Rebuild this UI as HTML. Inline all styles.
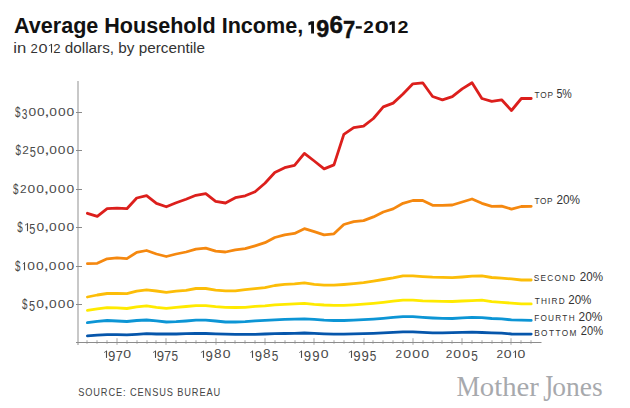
<!DOCTYPE html>
<html><head><meta charset="utf-8"><style>
html,body{margin:0;padding:0;background:#fff;}
body{width:630px;height:408px;overflow:hidden;position:relative;}
svg{position:absolute;left:0;top:0;}
text{font-family:"Liberation Sans",sans-serif;fill:#333;}
.title{font-weight:bold;font-size:22px;fill:#111;}
.sub{font-size:14.3px;fill:#333;}
.sub2{font-size:11.6px;fill:#333;}
.titleb{font-weight:bold;font-size:22px;fill:#111;stroke:#111;stroke-width:0.5px;}
.title2{font-weight:bold;font-size:16px;fill:#111;}
.yl{font-size:11.5px;fill:#4a4a4a;}
.xl{font-size:11.5px;fill:#4a4a4a;}
.sc{font-size:9.6px;}
.pc{font-size:12px;}
.src{font-size:10.5px;fill:#454545;}
.mjM{font-family:"Liberation Serif",serif;font-size:30.4px;fill:#a7a9ad;}
.mj{font-family:"Liberation Serif",serif;font-size:27.5px;fill:#a7a9ad;}
</style></head><body>
<svg width="630" height="408" viewBox="0 0 630 408">
<rect x="77" y="81" width="2" height="264" fill="#c8c8c8"/>
<rect x="86.25" y="340.2" width="1.5" height="3.6" fill="#c6c6c6"/><rect x="96.25" y="340.2" width="1.5" height="3.6" fill="#c6c6c6"/><rect x="106.25" y="340.2" width="1.5" height="3.6" fill="#c6c6c6"/><rect x="116.25" y="338.2" width="1.5" height="6.6" fill="#c6c6c6"/><rect x="126.25" y="340.2" width="1.5" height="3.6" fill="#c6c6c6"/><rect x="136.25" y="340.2" width="1.5" height="3.6" fill="#c6c6c6"/><rect x="146.25" y="340.2" width="1.5" height="3.6" fill="#c6c6c6"/><rect x="155.25" y="340.2" width="1.5" height="3.6" fill="#c6c6c6"/><rect x="165.25" y="338.2" width="1.5" height="6.6" fill="#c6c6c6"/><rect x="175.25" y="340.2" width="1.5" height="3.6" fill="#c6c6c6"/><rect x="185.25" y="340.2" width="1.5" height="3.6" fill="#c6c6c6"/><rect x="195.25" y="340.2" width="1.5" height="3.6" fill="#c6c6c6"/><rect x="205.25" y="340.2" width="1.5" height="3.6" fill="#c6c6c6"/><rect x="215.25" y="338.2" width="1.5" height="6.6" fill="#c6c6c6"/><rect x="224.25" y="340.2" width="1.5" height="3.6" fill="#c6c6c6"/><rect x="234.25" y="340.2" width="1.5" height="3.6" fill="#c6c6c6"/><rect x="244.25" y="340.2" width="1.5" height="3.6" fill="#c6c6c6"/><rect x="254.25" y="340.2" width="1.5" height="3.6" fill="#c6c6c6"/><rect x="264.25" y="338.2" width="1.5" height="6.6" fill="#c6c6c6"/><rect x="274.25" y="340.2" width="1.5" height="3.6" fill="#c6c6c6"/><rect x="284.25" y="340.2" width="1.5" height="3.6" fill="#c6c6c6"/><rect x="294.25" y="340.2" width="1.5" height="3.6" fill="#c6c6c6"/><rect x="303.25" y="340.2" width="1.5" height="3.6" fill="#c6c6c6"/><rect x="313.25" y="338.2" width="1.5" height="6.6" fill="#c6c6c6"/><rect x="323.25" y="340.2" width="1.5" height="3.6" fill="#c6c6c6"/><rect x="333.25" y="340.2" width="1.5" height="3.6" fill="#c6c6c6"/><rect x="343.25" y="340.2" width="1.5" height="3.6" fill="#c6c6c6"/><rect x="353.25" y="340.2" width="1.5" height="3.6" fill="#c6c6c6"/><rect x="363.25" y="338.2" width="1.5" height="6.6" fill="#c6c6c6"/><rect x="372.25" y="340.2" width="1.5" height="3.6" fill="#c6c6c6"/><rect x="382.25" y="340.2" width="1.5" height="3.6" fill="#c6c6c6"/><rect x="392.25" y="340.2" width="1.5" height="3.6" fill="#c6c6c6"/><rect x="402.25" y="340.2" width="1.5" height="3.6" fill="#c6c6c6"/><rect x="412.25" y="338.2" width="1.5" height="6.6" fill="#c6c6c6"/><rect x="422.25" y="340.2" width="1.5" height="3.6" fill="#c6c6c6"/><rect x="432.25" y="340.2" width="1.5" height="3.6" fill="#c6c6c6"/><rect x="441.25" y="340.2" width="1.5" height="3.6" fill="#c6c6c6"/><rect x="451.25" y="340.2" width="1.5" height="3.6" fill="#c6c6c6"/><rect x="461.25" y="338.2" width="1.5" height="6.6" fill="#c6c6c6"/><rect x="471.25" y="340.2" width="1.5" height="3.6" fill="#c6c6c6"/><rect x="481.25" y="340.2" width="1.5" height="3.6" fill="#c6c6c6"/><rect x="491.25" y="340.2" width="1.5" height="3.6" fill="#c6c6c6"/><rect x="501.25" y="340.2" width="1.5" height="3.6" fill="#c6c6c6"/><rect x="510.25" y="338.2" width="1.5" height="6.6" fill="#c6c6c6"/><rect x="520.25" y="340.2" width="1.5" height="3.6" fill="#c6c6c6"/><rect x="530.25" y="340.2" width="1.5" height="3.6" fill="#c6c6c6"/>
<rect x="76" y="342" width="465.5" height="1" fill="#8c8c8c"/>
<rect x="76" y="304" width="6" height="1" fill="#8a8a8a"/><rect x="76" y="266" width="6" height="1" fill="#8a8a8a"/><rect x="76" y="227" width="6" height="1" fill="#8a8a8a"/><rect x="76" y="189" width="6" height="1" fill="#8a8a8a"/><rect x="76" y="150" width="6" height="1" fill="#8a8a8a"/><rect x="76" y="112" width="6" height="1" fill="#8a8a8a"/>
<polyline points="87.41,213.30 97.28,216.30 107.14,208.70 117.00,208.10 126.86,208.70 136.72,198.00 146.59,195.70 156.45,203.40 166.31,206.80 176.17,202.80 186.03,199.20 195.90,195.30 205.76,193.70 215.62,201.40 225.48,203.00 235.34,197.70 245.21,195.80 255.07,191.70 264.93,183.20 274.79,172.50 284.65,167.70 294.52,165.30 304.38,153.40 314.24,161.00 324.10,168.90 333.96,164.90 343.83,134.40 353.69,127.70 363.55,126.10 373.41,118.50 383.27,106.90 393.14,103.10 403.00,94.00 412.86,83.80 422.72,82.80 432.58,96.50 442.45,99.80 452.31,96.70 462.17,88.90 472.03,82.70 481.89,98.50 491.76,101.40 501.62,99.80 511.48,110.50 521.34,98.50 531.20,98.50" fill="none" stroke="#dc1f1c" stroke-width="2.8" stroke-linejoin="round" stroke-linecap="round"/><polyline points="87.41,263.70 97.28,263.30 107.14,258.80 117.00,257.90 126.86,258.60 136.72,252.40 146.59,250.50 156.45,254.00 166.31,256.50 176.17,254.00 186.03,252.00 195.90,249.10 205.76,248.20 215.62,251.20 225.48,252.00 235.34,249.90 245.21,248.70 255.07,245.80 264.93,242.70 274.79,237.50 284.65,234.80 294.52,233.40 304.38,228.70 314.24,231.70 324.10,234.90 333.96,233.80 343.83,224.50 353.69,221.70 363.55,220.60 373.41,216.90 383.27,212.00 393.14,208.90 403.00,203.30 412.86,200.50 422.72,200.50 432.58,205.30 442.45,205.40 452.31,205.00 462.17,202.00 472.03,199.00 481.89,203.30 491.76,206.30 501.62,206.10 511.48,209.10 521.34,206.50 531.20,206.30" fill="none" stroke="#f5880f" stroke-width="2.8" stroke-linejoin="round" stroke-linecap="round"/><polyline points="87.41,297.00 97.28,295.00 107.14,293.50 117.00,293.30 126.86,293.70 136.72,291.20 146.59,289.90 156.45,291.00 166.31,292.30 176.17,291.20 186.03,290.30 195.90,288.50 205.76,288.50 215.62,290.10 225.48,290.80 235.34,290.90 245.21,289.60 255.07,288.70 264.93,287.60 274.79,285.50 284.65,284.40 294.52,283.80 304.38,282.80 314.24,284.40 324.10,285.20 333.96,285.20 343.83,284.50 353.69,283.60 363.55,282.70 373.41,281.20 383.27,279.50 393.14,277.90 403.00,275.80 412.86,275.80 422.72,276.60 432.58,277.20 442.45,277.40 452.31,277.70 462.17,277.00 472.03,276.20 481.89,275.80 491.76,277.50 501.62,278.20 511.48,278.90 521.34,280.00 531.20,280.00" fill="none" stroke="#fcbd08" stroke-width="2.8" stroke-linejoin="round" stroke-linecap="round"/><polyline points="87.41,310.30 97.28,308.80 107.14,307.60 117.00,307.90 126.86,308.50 136.72,306.90 146.59,305.80 156.45,307.30 166.31,308.40 176.17,307.30 186.03,306.50 195.90,305.70 205.76,305.70 215.62,306.70 225.48,307.30 235.34,307.50 245.21,307.30 255.07,306.40 264.93,305.80 274.79,304.80 284.65,304.40 294.52,303.90 304.38,303.40 314.24,304.40 324.10,305.00 333.96,305.30 343.83,305.30 353.69,304.80 363.55,304.10 373.41,303.30 383.27,302.30 393.14,301.10 403.00,300.10 412.86,300.10 422.72,300.90 432.58,301.20 442.45,301.30 452.31,301.50 462.17,301.00 472.03,300.60 481.89,300.20 491.76,301.70 501.62,302.30 511.48,303.10 521.34,303.90 531.20,303.90" fill="none" stroke="#ffea00" stroke-width="2.8" stroke-linejoin="round" stroke-linecap="round"/><polyline points="87.41,322.70 97.28,321.30 107.14,320.50 117.00,321.00 126.86,321.50 136.72,320.50 146.59,320.00 156.45,320.80 166.31,322.00 176.17,321.70 186.03,321.00 195.90,320.20 205.76,320.20 215.62,321.00 225.48,322.00 235.34,322.00 245.21,321.60 255.07,320.80 264.93,320.30 274.79,319.90 284.65,319.40 294.52,319.10 304.38,318.80 314.24,319.40 324.10,320.20 333.96,320.50 343.83,320.50 353.69,320.10 363.55,319.70 373.41,319.10 383.27,318.30 393.14,317.40 403.00,316.70 412.86,316.70 422.72,317.40 432.58,318.00 442.45,318.40 452.31,318.50 462.17,317.80 472.03,317.30 481.89,317.70 491.76,318.50 501.62,318.80 511.48,319.90 521.34,320.20 531.20,320.40" fill="none" stroke="#0c95d5" stroke-width="2.8" stroke-linejoin="round" stroke-linecap="round"/><polyline points="87.41,335.90 97.28,335.10 107.14,334.60 117.00,334.60 126.86,334.90 136.72,334.30 146.59,333.70 156.45,334.00 166.31,334.00 176.17,334.00 186.03,333.70 195.90,333.50 205.76,333.50 215.62,333.80 225.48,334.10 235.34,334.40 245.21,334.40 255.07,334.30 264.93,334.00 274.79,333.70 284.65,333.50 294.52,333.30 304.38,333.00 314.24,333.40 324.10,333.80 333.96,334.10 343.83,334.10 353.69,333.90 363.55,333.70 373.41,333.40 383.27,332.90 393.14,332.30 403.00,331.90 412.86,331.80 422.72,332.30 432.58,332.80 442.45,332.90 452.31,332.70 462.17,332.40 472.03,332.20 481.89,332.50 491.76,332.90 501.62,333.10 511.48,334.00 521.34,334.10 531.20,334.10" fill="none" stroke="#0656ab" stroke-width="2.8" stroke-linejoin="round" stroke-linecap="round"/>
<text id="title" x="14.00" y="33.3" class="title" textLength="289.20" lengthAdjust="spacingAndGlyphs">Average Household Income,</text><text id="sub1" x="13.20" y="52.8" class="sub" textLength="13.00" lengthAdjust="spacingAndGlyphs">in</text><text id="sub3" x="64.80" y="52.8" class="sub" textLength="140.20" lengthAdjust="spacingAndGlyphs">dollars, by percentile</text><text id="top5_sc" transform="scale(0.86,1)" x="621.40" y="98.0" class="sc" textLength="21.63" lengthAdjust="spacing">TOP</text><text id="top5_pc" x="556.40" y="97.5" class="pc" textLength="15.40" lengthAdjust="spacingAndGlyphs">5%</text><text id="top20_sc" transform="scale(0.86,1)" x="621.63" y="204.3" class="sc" textLength="20.93" lengthAdjust="spacing">TOP</text><text id="top20_pc" x="556.40" y="203.8" class="pc" textLength="23.60" lengthAdjust="spacingAndGlyphs">20%</text><text id="second_sc" transform="scale(0.86,1)" x="620.70" y="281.2" class="sc" textLength="48.14" lengthAdjust="spacing">SECOND</text><text id="second_pc" x="579.80" y="280.7" class="pc" textLength="23.20" lengthAdjust="spacingAndGlyphs">20%</text><text id="third_sc" transform="scale(0.86,1)" x="621.86" y="304.0" class="sc" textLength="34.65" lengthAdjust="spacing">THIRD</text><text id="third_pc" x="568.20" y="303.5" class="pc" textLength="23.20" lengthAdjust="spacingAndGlyphs">20%</text><text id="fourth_sc" transform="scale(0.86,1)" x="621.16" y="321.2" class="sc" textLength="46.98" lengthAdjust="spacing">FOURTH</text><text id="fourth_pc" x="578.60" y="320.7" class="pc" textLength="23.80" lengthAdjust="spacingAndGlyphs">20%</text><text id="bottom_sc" transform="scale(0.86,1)" x="621.16" y="335.6" class="sc" textLength="49.07" lengthAdjust="spacing">BOTTOM</text><text id="bottom_pc" x="580.80" y="335.1" class="pc" textLength="22.20" lengthAdjust="spacingAndGlyphs">20%</text><text id="src" transform="scale(0.88,1)" x="88.86" y="395.7" class="src" textLength="161.36" lengthAdjust="spacing">SOURCE: CENSUS BUREAU</text><text id="mjM" x="456.40" y="396.0" class="mjM" textLength="23.40" lengthAdjust="spacingAndGlyphs">M</text><text id="mj1" x="479.80" y="395.6" class="mj" textLength="59.00" lengthAdjust="spacingAndGlyphs">other</text><text id="mj3" x="552.20" y="395.6" class="mj" textLength="50.40" lengthAdjust="spacingAndGlyphs">ones</text><path d="M311.1,21.2 L314,21.2 L314,33.6 L311.1,33.6 L311.1,24.4 L308.5,25.5 L308.3,22.6 Z" fill="#111"/><text class="mj" transform="translate(543.3,401) scale(0.92,1.37)" x="0" y="0">J</text><text x="316.18" y="37.46" style="font-weight:bold;font-size:23.59px;fill:#111;stroke:#111;stroke-width:0.45px;" textLength="12.98" lengthAdjust="spacingAndGlyphs">9</text><text x="329.40" y="33.07" style="font-weight:bold;font-size:23.45px;fill:#111;stroke:#111;stroke-width:0.45px;" textLength="13.47" lengthAdjust="spacingAndGlyphs">6</text><text x="343.06" y="38.00" style="font-weight:bold;font-size:24.71px;fill:#111;stroke:#111;stroke-width:0.45px;" textLength="12.21" lengthAdjust="spacingAndGlyphs">7</text><rect x="355.8" y="26.2" width="6" height="2.4" fill="#111"/><text x="363.34" y="33.10" style="font-weight:bold;font-size:17.05px;fill:#111;" textLength="10.52" lengthAdjust="spacingAndGlyphs">2</text><text x="374.46" y="32.93" style="font-weight:bold;font-size:16.81px;fill:#111;" textLength="14.40" lengthAdjust="spacingAndGlyphs">0</text><path d="M391.9,21.2 L394.8,21.2 L394.8,33.1 L391.9,33.1 L391.9,24.2 L389.6,25.2 L389.4,22.4 Z" fill="#111"/><text x="397.41" y="33.10" style="font-weight:bold;font-size:17.05px;fill:#111;" textLength="10.98" lengthAdjust="spacingAndGlyphs">2</text><text x="30.44" y="52.70" style="font-size:12.46px;fill:#333;" textLength="7.32" lengthAdjust="spacingAndGlyphs">2</text><text x="38.46" y="52.58" style="font-size:12.29px;fill:#333;" textLength="9.08" lengthAdjust="spacingAndGlyphs">0</text><path d="M51.50,44.00 L51.50,52.70" stroke="#333" stroke-width="1.1" fill="none"/><path d="M48.90,45.90 L51.50,44.30" stroke="#333" stroke-width="0.8" fill="none"/><text x="53.34" y="52.70" style="font-size:12.46px;fill:#333;" textLength="7.32" lengthAdjust="spacingAndGlyphs">2</text><path d="M106.50,350.70 L106.50,357.90" stroke="#4a4a4a" stroke-width="1.1" fill="none"/><path d="M104.10,352.60 L106.50,351.00" stroke="#4a4a4a" stroke-width="0.8" fill="none"/><text x="108.01" y="360.56" style="font-size:13.98px;fill:#4a4a4a;" textLength="7.34" lengthAdjust="spacingAndGlyphs">9</text><text x="115.72" y="360.70" style="font-size:14.39px;fill:#4a4a4a;" textLength="7.09" lengthAdjust="spacingAndGlyphs">7</text><text x="123.25" y="357.80" style="font-size:10.17px;fill:#4a4a4a;" textLength="7.80" lengthAdjust="spacingAndGlyphs">0</text><path d="M155.50,350.70 L155.50,357.90" stroke="#4a4a4a" stroke-width="1.1" fill="none"/><path d="M153.00,352.60 L155.50,351.00" stroke="#4a4a4a" stroke-width="0.8" fill="none"/><text x="156.65" y="360.56" style="font-size:13.98px;fill:#4a4a4a;" textLength="7.34" lengthAdjust="spacingAndGlyphs">9</text><text x="164.08" y="360.70" style="font-size:14.39px;fill:#4a4a4a;" textLength="7.09" lengthAdjust="spacingAndGlyphs">7</text><text x="171.43" y="360.56" style="font-size:14.18px;fill:#4a4a4a;" textLength="6.57" lengthAdjust="spacingAndGlyphs">5</text><path d="M203.50,350.70 L203.50,357.90" stroke="#4a4a4a" stroke-width="1.1" fill="none"/><path d="M200.90,352.60 L203.50,351.00" stroke="#4a4a4a" stroke-width="0.8" fill="none"/><text x="205.48" y="360.56" style="font-size:13.98px;fill:#4a4a4a;" textLength="7.34" lengthAdjust="spacingAndGlyphs">9</text><text x="213.91" y="357.76" style="font-size:13.70px;fill:#4a4a4a;" textLength="7.57" lengthAdjust="spacingAndGlyphs">8</text><text x="222.65" y="357.80" style="font-size:10.17px;fill:#4a4a4a;" textLength="7.80" lengthAdjust="spacingAndGlyphs">0</text><path d="M252.50,350.70 L252.50,357.90" stroke="#4a4a4a" stroke-width="1.1" fill="none"/><path d="M250.40,352.60 L252.50,351.00" stroke="#4a4a4a" stroke-width="0.8" fill="none"/><text x="254.78" y="360.56" style="font-size:13.98px;fill:#4a4a4a;" textLength="7.34" lengthAdjust="spacingAndGlyphs">9</text><text x="263.01" y="357.76" style="font-size:13.70px;fill:#4a4a4a;" textLength="7.57" lengthAdjust="spacingAndGlyphs">8</text><text x="271.63" y="360.56" style="font-size:14.18px;fill:#4a4a4a;" textLength="6.57" lengthAdjust="spacingAndGlyphs">5</text><path d="M301.50,350.70 L301.50,357.90" stroke="#4a4a4a" stroke-width="1.1" fill="none"/><path d="M299.30,352.60 L301.50,351.00" stroke="#4a4a4a" stroke-width="0.8" fill="none"/><text x="303.85" y="360.56" style="font-size:13.98px;fill:#4a4a4a;" textLength="7.34" lengthAdjust="spacingAndGlyphs">9</text><text x="312.21" y="360.56" style="font-size:13.98px;fill:#4a4a4a;" textLength="7.34" lengthAdjust="spacingAndGlyphs">9</text><text x="320.65" y="357.80" style="font-size:10.17px;fill:#4a4a4a;" textLength="7.80" lengthAdjust="spacingAndGlyphs">0</text><path d="M351.50,350.70 L351.50,357.90" stroke="#4a4a4a" stroke-width="1.1" fill="none"/><path d="M348.80,352.60 L351.50,351.00" stroke="#4a4a4a" stroke-width="0.8" fill="none"/><text x="353.18" y="360.56" style="font-size:13.98px;fill:#4a4a4a;" textLength="7.34" lengthAdjust="spacingAndGlyphs">9</text><text x="361.38" y="360.56" style="font-size:13.98px;fill:#4a4a4a;" textLength="7.34" lengthAdjust="spacingAndGlyphs">9</text><text x="369.73" y="360.56" style="font-size:14.18px;fill:#4a4a4a;" textLength="6.57" lengthAdjust="spacingAndGlyphs">5</text><text x="395.51" y="357.90" style="font-size:10.32px;fill:#4a4a4a;" textLength="6.59" lengthAdjust="spacingAndGlyphs">2</text><text x="403.29" y="357.80" style="font-size:10.17px;fill:#4a4a4a;" textLength="7.80" lengthAdjust="spacingAndGlyphs">0</text><text x="412.32" y="357.80" style="font-size:10.17px;fill:#4a4a4a;" textLength="7.80" lengthAdjust="spacingAndGlyphs">0</text><text x="421.35" y="357.80" style="font-size:10.17px;fill:#4a4a4a;" textLength="7.80" lengthAdjust="spacingAndGlyphs">0</text><text x="445.71" y="357.90" style="font-size:10.32px;fill:#4a4a4a;" textLength="6.59" lengthAdjust="spacingAndGlyphs">2</text><text x="453.32" y="357.80" style="font-size:10.17px;fill:#4a4a4a;" textLength="7.80" lengthAdjust="spacingAndGlyphs">0</text><text x="462.19" y="357.80" style="font-size:10.17px;fill:#4a4a4a;" textLength="7.80" lengthAdjust="spacingAndGlyphs">0</text><text x="471.13" y="360.56" style="font-size:14.18px;fill:#4a4a4a;" textLength="6.57" lengthAdjust="spacingAndGlyphs">5</text><text x="496.51" y="357.90" style="font-size:10.32px;fill:#4a4a4a;" textLength="6.59" lengthAdjust="spacingAndGlyphs">2</text><text x="503.82" y="357.80" style="font-size:10.17px;fill:#4a4a4a;" textLength="7.80" lengthAdjust="spacingAndGlyphs">0</text><path d="M515.50,350.70 L515.50,357.90" stroke="#4a4a4a" stroke-width="1.1" fill="none"/><path d="M513.23,352.60 L515.50,351.00" stroke="#4a4a4a" stroke-width="0.8" fill="none"/><text x="517.45" y="357.80" style="font-size:10.17px;fill:#4a4a4a;" textLength="7.80" lengthAdjust="spacingAndGlyphs">0</text><text x="21.99" y="308.79" style="font-size:14.59px;fill:#4a4a4a;" textLength="5.47" lengthAdjust="spacingAndGlyphs">$</text><text x="28.99" y="310.55" style="font-size:14.90px;fill:#4a4a4a;" textLength="6.10" lengthAdjust="spacingAndGlyphs">5</text><text x="36.23" y="308.09" style="font-size:11.16px;fill:#4a4a4a;" textLength="7.68" lengthAdjust="spacingAndGlyphs">0</text><text x="43.76" y="308.22" style="font-size:12.34px;fill:#4a4a4a;" textLength="5.39" lengthAdjust="spacingAndGlyphs">,</text><text x="48.99" y="308.09" style="font-size:11.16px;fill:#4a4a4a;" textLength="7.68" lengthAdjust="spacingAndGlyphs">0</text><text x="57.73" y="308.09" style="font-size:11.16px;fill:#4a4a4a;" textLength="7.68" lengthAdjust="spacingAndGlyphs">0</text><text x="66.46" y="308.09" style="font-size:11.16px;fill:#4a4a4a;" textLength="7.68" lengthAdjust="spacingAndGlyphs">0</text><text x="14.99" y="270.79" style="font-size:14.59px;fill:#4a4a4a;" textLength="5.47" lengthAdjust="spacingAndGlyphs">$</text><path d="M24.50,262.30 L24.50,270.20" stroke="#4a4a4a" stroke-width="1.1" fill="none"/><path d="M22.80,264.20 L24.50,262.60" stroke="#4a4a4a" stroke-width="0.8" fill="none"/><text x="27.16" y="270.09" style="font-size:11.16px;fill:#4a4a4a;" textLength="7.68" lengthAdjust="spacingAndGlyphs">0</text><text x="35.96" y="270.09" style="font-size:11.16px;fill:#4a4a4a;" textLength="7.68" lengthAdjust="spacingAndGlyphs">0</text><text x="43.56" y="270.22" style="font-size:12.34px;fill:#4a4a4a;" textLength="5.39" lengthAdjust="spacingAndGlyphs">,</text><text x="48.86" y="270.09" style="font-size:11.16px;fill:#4a4a4a;" textLength="7.68" lengthAdjust="spacingAndGlyphs">0</text><text x="57.66" y="270.09" style="font-size:11.16px;fill:#4a4a4a;" textLength="7.68" lengthAdjust="spacingAndGlyphs">0</text><text x="66.46" y="270.09" style="font-size:11.16px;fill:#4a4a4a;" textLength="7.68" lengthAdjust="spacingAndGlyphs">0</text><text x="17.29" y="231.79" style="font-size:14.59px;fill:#4a4a4a;" textLength="5.47" lengthAdjust="spacingAndGlyphs">$</text><path d="M27.50,223.30 L27.50,231.20" stroke="#4a4a4a" stroke-width="1.1" fill="none"/><path d="M24.97,225.20 L27.50,223.60" stroke="#4a4a4a" stroke-width="0.8" fill="none"/><text x="29.30" y="233.55" style="font-size:14.90px;fill:#4a4a4a;" textLength="6.10" lengthAdjust="spacingAndGlyphs">5</text><text x="36.48" y="231.09" style="font-size:11.16px;fill:#4a4a4a;" textLength="7.68" lengthAdjust="spacingAndGlyphs">0</text><text x="43.94" y="231.22" style="font-size:12.34px;fill:#4a4a4a;" textLength="5.39" lengthAdjust="spacingAndGlyphs">,</text><text x="49.12" y="231.09" style="font-size:11.16px;fill:#4a4a4a;" textLength="7.68" lengthAdjust="spacingAndGlyphs">0</text><text x="57.79" y="231.09" style="font-size:11.16px;fill:#4a4a4a;" textLength="7.68" lengthAdjust="spacingAndGlyphs">0</text><text x="66.46" y="231.09" style="font-size:11.16px;fill:#4a4a4a;" textLength="7.68" lengthAdjust="spacingAndGlyphs">0</text><text x="13.09" y="193.79" style="font-size:14.59px;fill:#4a4a4a;" textLength="5.47" lengthAdjust="spacingAndGlyphs">$</text><text x="19.94" y="193.20" style="font-size:11.32px;fill:#4a4a4a;" textLength="6.59" lengthAdjust="spacingAndGlyphs">2</text><text x="27.52" y="193.09" style="font-size:11.16px;fill:#4a4a4a;" textLength="7.68" lengthAdjust="spacingAndGlyphs">0</text><text x="36.25" y="193.09" style="font-size:11.16px;fill:#4a4a4a;" textLength="7.68" lengthAdjust="spacingAndGlyphs">0</text><text x="43.77" y="193.22" style="font-size:12.34px;fill:#4a4a4a;" textLength="5.39" lengthAdjust="spacingAndGlyphs">,</text><text x="49.00" y="193.09" style="font-size:11.16px;fill:#4a4a4a;" textLength="7.68" lengthAdjust="spacingAndGlyphs">0</text><text x="57.73" y="193.09" style="font-size:11.16px;fill:#4a4a4a;" textLength="7.68" lengthAdjust="spacingAndGlyphs">0</text><text x="66.46" y="193.09" style="font-size:11.16px;fill:#4a4a4a;" textLength="7.68" lengthAdjust="spacingAndGlyphs">0</text><text x="15.49" y="154.79" style="font-size:14.59px;fill:#4a4a4a;" textLength="5.47" lengthAdjust="spacingAndGlyphs">$</text><text x="22.19" y="154.20" style="font-size:11.32px;fill:#4a4a4a;" textLength="6.59" lengthAdjust="spacingAndGlyphs">2</text><text x="29.73" y="156.55" style="font-size:14.90px;fill:#4a4a4a;" textLength="6.10" lengthAdjust="spacingAndGlyphs">5</text><text x="36.82" y="154.09" style="font-size:11.16px;fill:#4a4a4a;" textLength="7.68" lengthAdjust="spacingAndGlyphs">0</text><text x="44.20" y="154.22" style="font-size:12.34px;fill:#4a4a4a;" textLength="5.39" lengthAdjust="spacingAndGlyphs">,</text><text x="49.29" y="154.09" style="font-size:11.16px;fill:#4a4a4a;" textLength="7.68" lengthAdjust="spacingAndGlyphs">0</text><text x="57.88" y="154.09" style="font-size:11.16px;fill:#4a4a4a;" textLength="7.68" lengthAdjust="spacingAndGlyphs">0</text><text x="66.46" y="154.09" style="font-size:11.16px;fill:#4a4a4a;" textLength="7.68" lengthAdjust="spacingAndGlyphs">0</text><text x="14.99" y="116.79" style="font-size:14.59px;fill:#4a4a4a;" textLength="5.47" lengthAdjust="spacingAndGlyphs">$</text><text x="21.86" y="118.55" style="font-size:14.69px;fill:#4a4a4a;" textLength="5.63" lengthAdjust="spacingAndGlyphs">3</text><text x="28.45" y="116.09" style="font-size:11.16px;fill:#4a4a4a;" textLength="7.68" lengthAdjust="spacingAndGlyphs">0</text><text x="36.99" y="116.09" style="font-size:11.16px;fill:#4a4a4a;" textLength="7.68" lengthAdjust="spacingAndGlyphs">0</text><text x="44.33" y="116.22" style="font-size:12.34px;fill:#4a4a4a;" textLength="5.39" lengthAdjust="spacingAndGlyphs">,</text><text x="49.38" y="116.09" style="font-size:11.16px;fill:#4a4a4a;" textLength="7.68" lengthAdjust="spacingAndGlyphs">0</text><text x="57.92" y="116.09" style="font-size:11.16px;fill:#4a4a4a;" textLength="7.68" lengthAdjust="spacingAndGlyphs">0</text><text x="66.46" y="116.09" style="font-size:11.16px;fill:#4a4a4a;" textLength="7.68" lengthAdjust="spacingAndGlyphs">0</text>
</svg>
</body></html>
